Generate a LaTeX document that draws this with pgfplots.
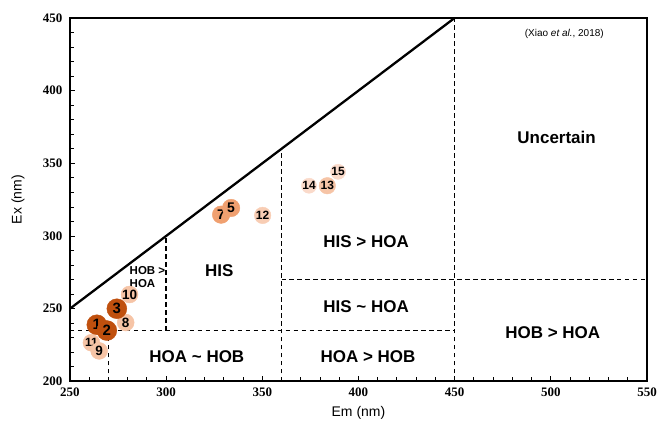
\documentclass[border=0pt]{standalone}
\usepackage{fontspec}
\setmainfont{Liberation Sans}
\newfontfamily\tnr{Liberation Serif}
\usepackage{pgfplots}
\pgfplotsset{compat=1.18}
\definecolor{c1}{HTML}{C0500E}
\definecolor{c2}{HTML}{F0A070}
\definecolor{c3}{HTML}{F6C4A6}
\definecolor{c4}{HTML}{FADACA}
\definecolor{c5}{HTML}{F8CDB4}
\begin{document}
\begin{tikzpicture}
\path[use as bounding box] (-70bp,-51bp) rectangle (589bp,382bp);
\begin{axis}[
  at={(0,0)}, anchor=south west,
  scale only axis, width=578bp, height=364bp,
  xmin=250, xmax=550, ymin=200, ymax=450,
  xtick={250,300,...,550}, ytick={200,250,...,450},
  minor x tick num=4, minor y tick num=4,
  tick align=inside, tick pos=left,
  major tick length=5bp, minor tick length=4bp,
  axis line style={line width=2bp},
  tick style={black, line width=0.9bp},
  ticklabel style={font=\tnr\bfseries\fontsize{13bp}{13bp}\selectfont},
  xticklabel style={yshift=-3bp},
  yticklabel style={xshift=-4bp},
  /pgf/number format/assume math mode=true,
  xlabel={Em (nm)}, ylabel={Ex (nm)},
  label style={font=\fontsize{14bp}{14bp}\selectfont},
  xlabel style={yshift=-3bp},
  ylabel style={at={(axis description cs:-0.09,0.5)}, anchor=center},
  clip=false,
]
% diagonal
\addplot[black, line width=2.3bp] coordinates {(250,250) (450,450)};
% dashed boundaries
\addplot[black, line width=1.5bp, dash pattern=on 4.5bp off 3.5bp] coordinates {(250,235) (450,235)};
\addplot[black, line width=1.5bp, dash pattern=on 4.5bp off 3.5bp] coordinates {(300,235) (300,300)};
\addplot[black, line width=1.5bp, dash pattern=on 4.5bp off 3.5bp] coordinates {(270,200) (270,235)};
\addplot[black, line width=1.5bp, dash pattern=on 4.5bp off 3.5bp] coordinates {(360,200) (360,360)};
\addplot[black, line width=1.5bp, dash pattern=on 4.5bp off 3.5bp] coordinates {(360,270) (550,270)};
\addplot[black, line width=1.1bp, dash pattern=on 4.5bp off 3.5bp] coordinates {(450,200) (450,450)};
% points
\addplot[only marks, mark=*, mark size=8.5bp, c3, mark options={draw=none},
  nodes near coords, point meta=explicit symbolic,
  nodes near coords style={anchor=center, text=black, font=\bfseries\fontsize{12bp}{12bp}\selectfont}]
  table[meta=lab]{
x y lab
261.2 226.6 11
};
\addplot[only marks, mark=*, mark size=8.5bp, c3, mark options={draw=none},
  nodes near coords, point meta=explicit symbolic,
  nodes near coords style={anchor=center, text=black, font=\bfseries\fontsize{13.5bp}{13.5bp}\selectfont}]
  table[meta=lab]{
x y lab
265.2 221 9
279 240.5 8
281 259.8 10
};
\addplot[only marks, mark=*, mark size=8.3bp, c5, mark options={draw=none},
  nodes near coords, point meta=explicit symbolic,
  nodes near coords style={anchor=center, text=black, font=\bfseries\fontsize{12bp}{12bp}\selectfont}]
  table[meta=lab]{
x y lab
350.2 314.2 12
};
\addplot[only marks, mark=*, mark size=7.6bp, c4, mark options={draw=none},
  nodes near coords, point meta=explicit symbolic,
  nodes near coords style={anchor=center, text=black, font=\bfseries\fontsize{12bp}{12bp}\selectfont}]
  table[meta=lab]{
x y lab
374.3 334.6 14
389.4 344.2 15
};
\addplot[only marks, mark=*, mark size=8.3bp, c3, mark options={draw=none},
  nodes near coords, point meta=explicit symbolic,
  nodes near coords style={anchor=center, text=black, font=\bfseries\fontsize{12bp}{12bp}\selectfont}]
  table[meta=lab]{
x y lab
383.8 334.6 13
};
\addplot[only marks, mark=*, mark size=8.8bp, c2, mark options={draw=none},
  nodes near coords, point meta=explicit symbolic,
  nodes near coords style={anchor=center, text=black, font=\bfseries\fontsize{14bp}{14bp}\selectfont}]
  table[meta=lab]{
x y lab
328.6 314.7 7
333.8 319.3 5
};
\addplot[only marks, mark=*, mark size=10bp, c1, mark options={draw=none},
  nodes near coords, point meta=explicit symbolic,
  nodes near coords style={anchor=center, text=black, font=\bfseries\fontsize{15bp}{15bp}\selectfont}]
  table[meta=lab]{
x y lab
264 239 1
269.2 235 2
274.4 250 3
};
% region labels
\node[font=\bfseries\fontsize{11.5bp}{13bp}\selectfont, align=left] at (axis cs:290.3,272) {HOB >\\HOA};
\node[font=\bfseries\fontsize{17bp}{17bp}\selectfont] at (axis cs:327.6,276) {HIS};
\node[font=\bfseries\fontsize{17bp}{17bp}\selectfont] at (axis cs:404,296) {HIS > HOA};
\node[font=\bfseries\fontsize{17bp}{17bp}\selectfont] at (axis cs:503,367.6) {Uncertain};
\node[font=\bfseries\fontsize{17bp}{17bp}\selectfont] at (axis cs:404,251.5) {HIS \char`~{} HOA};
\node[font=\bfseries\fontsize{17bp}{17bp}\selectfont] at (axis cs:501,233.6) {HOB > HOA};
\node[font=\bfseries\fontsize{17bp}{17bp}\selectfont] at (axis cs:316,217) {HOA \char`~{} HOB};
\node[font=\bfseries\fontsize{17bp}{17bp}\selectfont] at (axis cs:405,217) {HOA > HOB};
\node[font=\fontsize{10bp}{10bp}\selectfont] at (axis cs:507,439) {(Xiao \textit{et al.}, 2018)};
\end{axis}
\end{tikzpicture}
\end{document}
